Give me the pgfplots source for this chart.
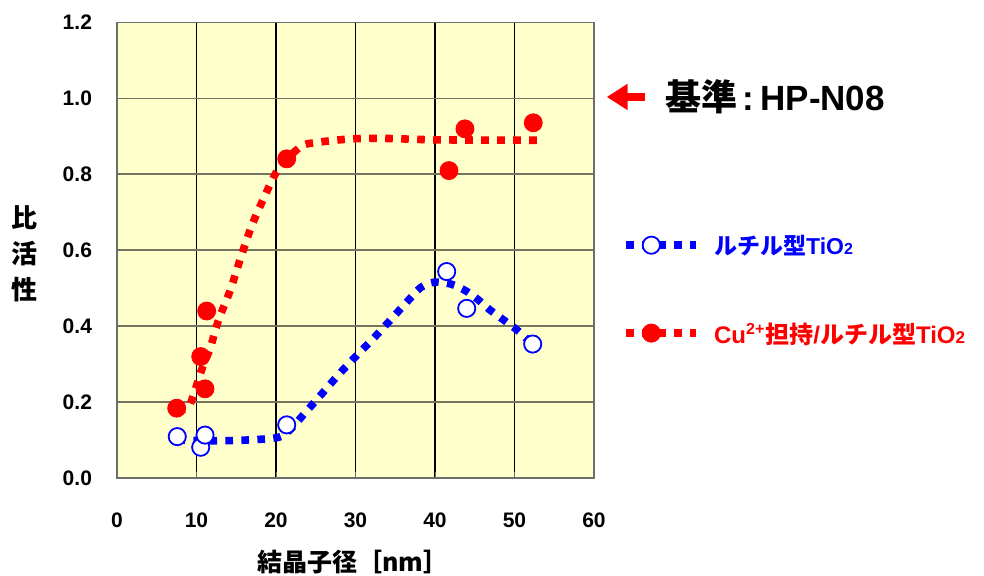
\documentclass[border=0pt]{standalone}
\usepackage{fontspec}
\setmainfont{Liberation Sans}
\newfontfamily\jp{Noto Sans CJK JP}
\usepackage{pgfplots}
\pgfplotsset{compat=1.18}
\usetikzlibrary{arrows.meta}
\definecolor{bg}{HTML}{FFFFCC}
\definecolor{hgrid}{HTML}{75755F}
\definecolor{axgray}{HTML}{6E6E6E}
\begin{document}
\begin{tikzpicture}
\useasboundingbox (0,0) rectangle (492pt,288pt);
\begin{axis}[
  at={(58.5pt,49pt)}, anchor=south west,
  scale only axis, width=238.5pt, height=227.7pt,
  xmin=0, xmax=60, ymin=0, ymax=1.2,
  xtick={0,10,20,30,40,50,60},
  ytick={0,0.2,0.4,0.6,0.8,1.0,1.2},
  axis background/.style={fill=bg},
  xmajorgrids, ymajorgrids,
  major x grid style={black, line width=0.6pt},
  major y grid style={hgrid, line width=0.9pt},
  axis line style={axgray, line width=0.9pt},
  tick align=inside, major tick length=3pt, tick pos=left,
  tick style={axgray},
  /pgf/number format/assume math mode=true,
  tick label style={font=\fontsize{10.5}{12}\selectfont\bfseries},
  yticklabel style={xshift=-9pt, /pgf/number format/.cd, fixed, fixed zerofill, precision=1},
  xticklabel style={yshift=-13.75pt},
  xlabel={結晶子径［nm］},
  xlabel style={font=\jp\bfseries\fontsize{12.5}{14}\selectfont, at={(axis description cs:0.494,-0.1845)}, anchor=center},
  ylabel={比\\活\\性},
  ylabel style={rotate=-90, align=center, font=\jp\bfseries\fontsize{13}{18}\selectfont, at={(axis description cs:-0.193,0.492)}, anchor=center},
  clip=false,
  legend image code/.code={\draw[mark repeat=2,mark phase=2,#1] plot coordinates {(0pt,0pt) (12.5pt,0pt) (35pt,0pt)};},
  legend style={at={(axis description cs:1.059,0.414)}, anchor=west, draw=none, fill=none,
    inner xsep=0pt, inner ysep=0pt, nodes={inner sep=0pt, text depth=0pt},
    row sep=34pt, column sep=7pt},
  legend cell align=left,
]
% legend entries
\addlegendimage{blue, line width=3.8pt, dash pattern=on 3.8pt off 4.2pt, mark=*, mark size=4.3pt, mark options={solid, fill=white, draw=blue, line width=0.9pt}}
\addlegendentry{\textcolor{blue}{\fontsize{11.5}{13}\selectfont\bfseries{\jp ルチル型}TiO{\fontsize{8}{8}\selectfont 2}}}
\addlegendimage{red, line width=3.8pt, dash pattern=on 3.8pt off 4.2pt, mark=*, mark size=4.5pt, mark options={solid, fill=red, draw=red, line width=0.5pt}}
\addlegendentry{\textcolor{red}{\fontsize{12}{13}\selectfont\bfseries Cu\textsuperscript{2+}{\jp 担持}/{\jp ルチル型}TiO{\fontsize{8.5}{8.5}\selectfont 2}}}

% blue trend curve
\addplot[forget plot, blue, line width=3.8pt, dash pattern=on 3.8pt off 4.2pt, smooth, mark=none] coordinates {
(7.6,0.100) (8.3,0.100) (12.3,0.098) (16.3,0.100) (20.3,0.107) (21.8,0.128) (23.3,0.163)
(25.9,0.225) (28.6,0.289) (32.8,0.380) (36.9,0.474) (38.2,0.502) (39.9,0.516)
(42.0,0.511) (43.8,0.494) (45.3,0.472) (46.9,0.443) (50.2,0.392) (52.2,0.353)};
% red trend curve
\addplot[forget plot, red, line width=3.8pt, dash pattern=on 3.8pt off 4.2pt, smooth, mark=none] coordinates {
(7.6,0.179) (8.6,0.181) (9.1,0.190) (9.7,0.223) (10.3,0.263) (10.9,0.300) (11.7,0.340)
(12.3,0.384) (12.9,0.424) (13.7,0.465) (14.4,0.504) (15.6,0.583) (16.9,0.662)
(18.5,0.739) (20.3,0.814) (23.1,0.873) (25.1,0.884) (29.1,0.893) (33.1,0.895)
(40.6,0.891) (53.8,0.890)};

% blue measured points
\addplot[forget plot, only marks, mark=*, mark size=4.3pt, mark options={fill=white, draw=blue, line width=0.9pt}] coordinates {
(7.58,0.109) (10.53,0.081) (11.07,0.113) (21.35,0.140) (41.47,0.544) (43.99,0.447) (52.29,0.353)};
% red measured points
\addplot[forget plot, only marks, mark=*, mark size=4.5pt, mark options={fill=red, draw=red}] coordinates {
(7.51,0.184) (10.53,0.320) (11.28,0.440) (11.07,0.235) (21.35,0.841) (41.76,0.810) (43.77,0.920) (52.36,0.936)};

% reference annotation
\draw[red, line width=4pt, -{Triangle[length=10.5pt, width=12.5pt]}] (axis cs:66.4,1.004) -- (axis cs:61.6,1.004);
\node[anchor=west, inner sep=0pt, font=\fontsize{17.5}{20}\selectfont\bfseries] at (axis cs:68.9,1.004) {{\jp\fontsize{18}{20}\selectfont 基準}\,:\,HP-N08};
\end{axis}
\end{tikzpicture}
\end{document}
